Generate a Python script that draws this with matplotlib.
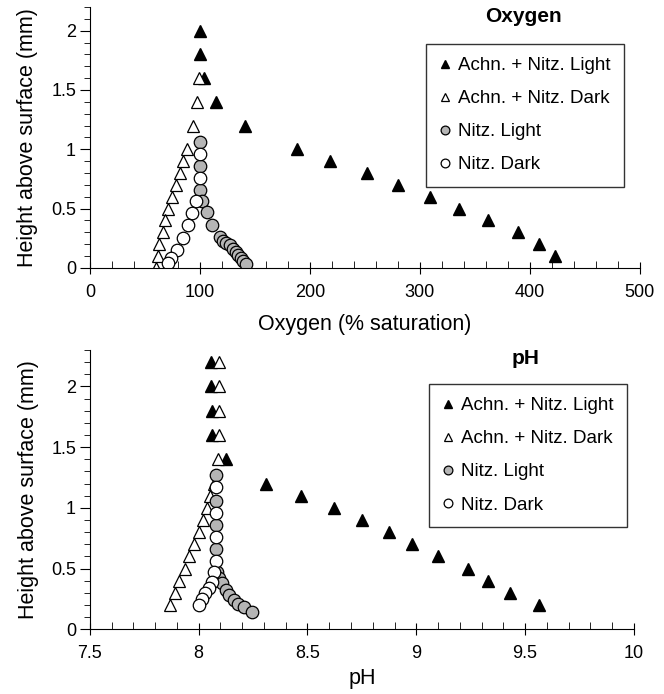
"""
Oxygen and pH profiles above the biofilm surface, light vs dark.
"""
import matplotlib
matplotlib.use('Agg')
import matplotlib.pyplot as plt
from matplotlib.ticker import MultipleLocator, FuncFormatter

plt.rcParams['font.family'] = ['Liberation Sans', 'DejaVu Sans']

# --- Oxygen panel data (% saturation vs height, mm)
ox_light_x = [100, 100, 104, 115, 141, 188, 218, 252, 280, 309, 336, 362, 389, 408, 423]
ox_light_y = [2.0, 1.8, 1.6, 1.4, 1.2, 1.0, 0.9, 0.8, 0.7, 0.6, 0.5, 0.4, 0.3, 0.2, 0.1]
ox_dark_x = [99, 97, 94, 88, 85, 82, 78, 75, 71, 68, 66, 63, 62, 60]
ox_dark_y = [1.6, 1.4, 1.2, 1.0, 0.9, 0.8, 0.7, 0.6, 0.5, 0.4, 0.3, 0.2, 0.1, 0.0]
ox_nitz_light_x = [100, 100, 100, 102, 106, 111, 118, 121, 124, 127, 130, 133, 135, 137, 139, 142]
ox_nitz_light_y = [1.06, 0.86, 0.66, 0.56, 0.47, 0.36, 0.26, 0.23, 0.21, 0.19, 0.16, 0.13, 0.11, 0.08, 0.06, 0.03]
ox_nitz_dark_x = [100, 100, 96, 93, 89, 85, 79, 74, 71]
ox_nitz_dark_y = [0.96, 0.76, 0.56, 0.46, 0.36, 0.25, 0.15, 0.08, 0.04]

# --- pH panel data
ph_light_x = [8.055, 8.055, 8.06, 8.06, 8.125, 8.31, 8.47, 8.62, 8.75, 8.875, 8.98, 9.10, 9.24, 9.33, 9.43, 9.565]
ph_light_y = [2.2, 2.0, 1.8, 1.6, 1.4, 1.2, 1.1, 1.0, 0.9, 0.8, 0.7, 0.6, 0.5, 0.4, 0.3, 0.2]
ph_dark_x = [8.095, 8.095, 8.095, 8.095, 8.09, 8.07, 8.05, 8.036, 8.018, 8.0, 7.978, 7.956, 7.937, 7.91, 7.89, 7.87]
ph_dark_y = [2.2, 2.0, 1.8, 1.6, 1.4, 1.2, 1.1, 1.0, 0.9, 0.8, 0.7, 0.6, 0.5, 0.4, 0.3, 0.2]
ph_nitz_light_x = [8.08, 8.08, 8.08, 8.08, 8.085, 8.095, 8.105, 8.125, 8.14, 8.16, 8.18, 8.21, 8.245]
ph_nitz_light_y = [1.27, 1.06, 0.86, 0.66, 0.47, 0.42, 0.38, 0.32, 0.28, 0.24, 0.21, 0.18, 0.145]
ph_nitz_dark_x = [8.08, 8.08, 8.08, 8.08, 8.07, 8.06, 8.045, 8.03, 8.015, 8.0]
ph_nitz_dark_y = [1.17, 0.96, 0.76, 0.56, 0.47, 0.39, 0.34, 0.30, 0.25, 0.2]

labels = ['Achn. + Nitz. Light', 'Achn. + Nitz. Dark', 'Nitz. Light', 'Nitz. Dark']
GREY = '#b5b5b5'
fmt = FuncFormatter(lambda v, p: '%g' % v)


def draw_panel(ax, series, title, title_pos, xlabel, xlabel_y, legend_anchor):
    (lx, ly), (dx, dy), (nlx, nly), (ndx, ndy) = series
    ax.plot(lx, ly, '^', ms=8, mfc='black', mec='black', label=labels[0])
    ax.plot(dx, dy, '^', ms=8, mfc='white', mec='black', mew=0.9, label=labels[1])
    ax.plot(nlx, nly, 'o', ms=9, mfc=GREY, mec='black', mew=0.9, label=labels[2])
    ax.plot(ndx, ndy, 'o', ms=9, mfc='white', mec='black', mew=0.9, label=labels[3])

    for s in ('top', 'right'):
        ax.spines[s].set_visible(False)
    ax.yaxis.set_major_locator(MultipleLocator(0.5))
    ax.yaxis.set_minor_locator(MultipleLocator(0.1))
    ax.xaxis.set_major_formatter(fmt)
    ax.yaxis.set_major_formatter(fmt)
    ax.tick_params(axis='y', which='major', direction='out', length=7, pad=3, labelsize=13)
    ax.tick_params(axis='y', which='minor', direction='out', length=4)
    ax.tick_params(axis='x', which='major', direction='inout', length=9, pad=7, labelsize=13)
    ax.tick_params(axis='x', which='minor', direction='in', length=5)
    ax.set_ylabel('Height above surface (mm)', fontsize=15.5)
    ax.set_xlabel(xlabel, fontsize=15.5)
    ax.yaxis.set_label_coords(-0.094, 0.5)
    ax.xaxis.set_label_coords(0.5, xlabel_y)
    ax.text(title_pos[0], title_pos[1], title, transform=ax.transAxes, ha='center',
            va='center', fontsize=15, fontweight='bold')
    leg = ax.legend(loc='upper right', bbox_to_anchor=legend_anchor, fontsize=13.5,
                    frameon=True, fancybox=False, edgecolor='black', markerscale=0.7,
                    handlelength=0.6, handletextpad=0.4, labelspacing=0.85,
                    borderpad=0.7, borderaxespad=0)
    leg.get_frame().set_linewidth(1.0)


fig = plt.figure(figsize=(6.64, 6.94), dpi=100)

ax1 = fig.add_axes([0.1355, 0.614, 0.828, 0.376])
draw_panel(ax1, [(ox_light_x, ox_light_y), (ox_dark_x, ox_dark_y),
                 (ox_nitz_light_x, ox_nitz_light_y), (ox_nitz_dark_x, ox_nitz_dark_y)],
           'Oxygen', (0.789, 0.962), 'Oxygen (% saturation)', -0.176, (0.971, 0.858))
ax1.set_xlim(0, 500)
ax1.set_ylim(0, 2.2)
ax1.xaxis.set_major_locator(MultipleLocator(100))
ax1.xaxis.set_minor_locator(MultipleLocator(20))

ax2 = fig.add_axes([0.1355, 0.0932, 0.819, 0.4025])
draw_panel(ax2, [(ph_light_x, ph_light_y), (ph_dark_x, ph_dark_y),
                 (ph_nitz_light_x, ph_nitz_light_y), (ph_nitz_dark_x, ph_nitz_dark_y)],
           'pH', (0.80, 0.971), 'pH', -0.139, (0.987, 0.878))
ax2.set_xlim(7.5, 10)
ax2.set_ylim(0, 2.3)
ax2.xaxis.set_major_locator(MultipleLocator(0.5))
ax2.xaxis.set_minor_locator(MultipleLocator(0.1))

fig.savefig('out.png', dpi=100)
